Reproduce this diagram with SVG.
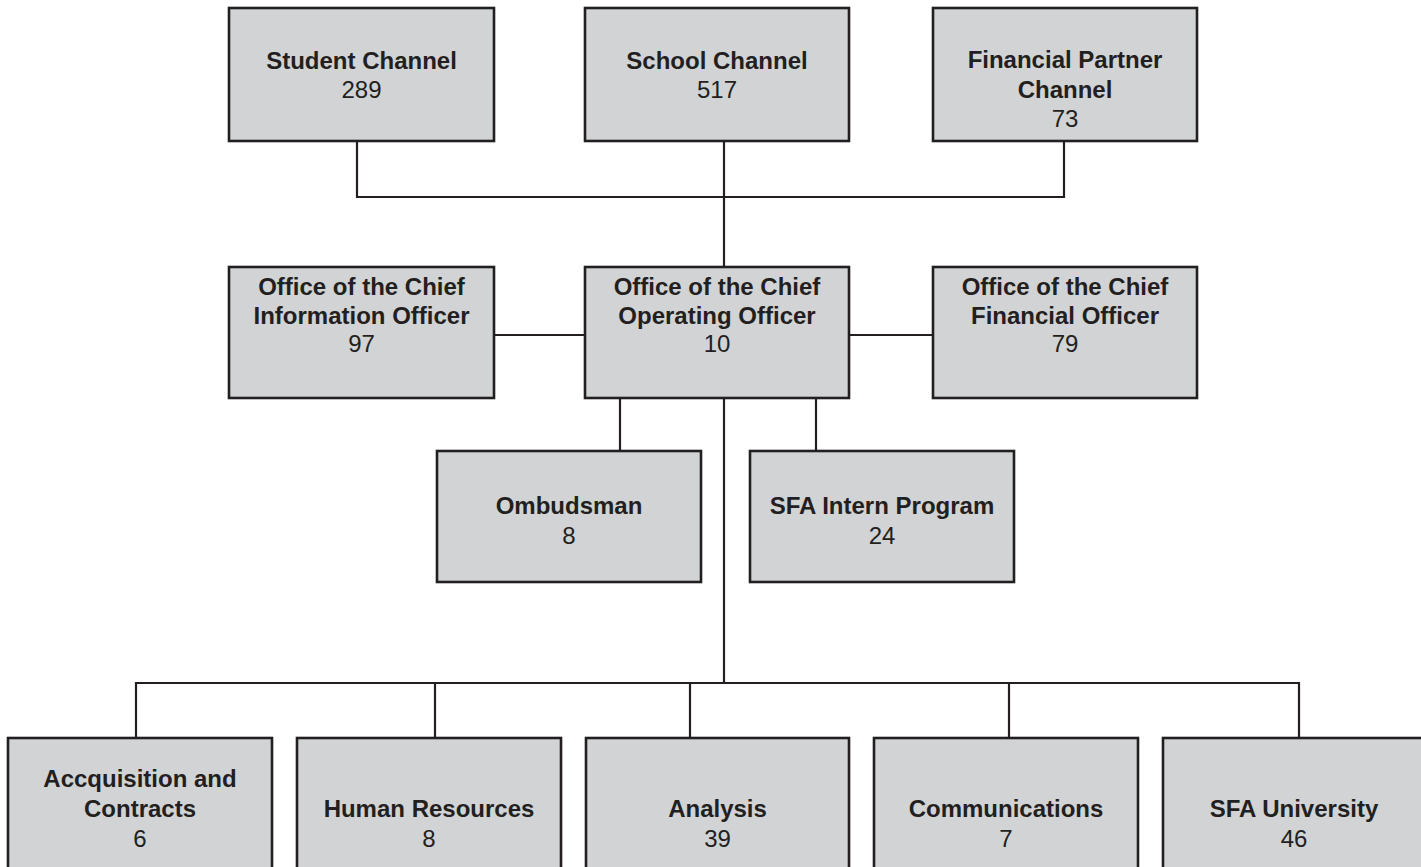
<svg xmlns="http://www.w3.org/2000/svg" width="1421" height="867" viewBox="0 0 1421 867">
<style>
.box{fill:#d1d3d4;stroke:#231f20;stroke-width:2.6}
.ln{fill:none;stroke:#231f20;stroke-width:2.2}
text{font-family:"Liberation Sans",Arial,Helvetica,sans-serif;font-size:24px;fill:#231f20;text-anchor:middle}
.b{font-weight:bold}
</style>
<rect width="1421" height="867" fill="#ffffff"/>
<g id="connectors">
<path class="ln" d="M357,141 V197 H1064 V141"/>
<path class="ln" d="M724,141 V267"/>
<path class="ln" d="M494,335 H585"/>
<path class="ln" d="M849,335 H933"/>
<path class="ln" d="M620,398 V451"/>
<path class="ln" d="M816,398 V451"/>
<path class="ln" d="M724,398 V683"/>
<path class="ln" d="M136,738 V683 H1299 V738"/>
<path class="ln" d="M435,683 V738"/>
<path class="ln" d="M690,683 V738"/>
<path class="ln" d="M1009,683 V738"/>
</g>
<g id="student-channel">
<rect class="box" x="229" y="8" width="265" height="133"/>
<text class="b" x="361.5" y="69">Student Channel</text>
<text x="361.5" y="98">289</text>
</g>
<g id="school-channel">
<rect class="box" x="585" y="8" width="264" height="133"/>
<text class="b" x="717" y="69">School Channel</text>
<text x="717" y="98">517</text>
</g>
<g id="financial-partner-channel">
<rect class="box" x="933" y="8" width="264" height="133"/>
<text class="b" x="1065" y="68">Financial Partner</text>
<text class="b" x="1065" y="98">Channel</text>
<text x="1065" y="127">73</text>
</g>
<g id="cio">
<rect class="box" x="229" y="267" width="265" height="131"/>
<text class="b" x="361.5" y="295">Office of the Chief</text>
<text class="b" x="361.5" y="324">Information Officer</text>
<text x="361.5" y="352">97</text>
</g>
<g id="coo">
<rect class="box" x="585" y="267" width="264" height="131"/>
<text class="b" x="717" y="295">Office of the Chief</text>
<text class="b" x="717" y="324">Operating Officer</text>
<text x="717" y="352">10</text>
</g>
<g id="cfo">
<rect class="box" x="933" y="267" width="264" height="131"/>
<text class="b" x="1065" y="295">Office of the Chief</text>
<text class="b" x="1065" y="324">Financial Officer</text>
<text x="1065" y="352">79</text>
</g>
<g id="ombudsman">
<rect class="box" x="437" y="451" width="264" height="131"/>
<text class="b" x="569" y="514">Ombudsman</text>
<text x="569" y="544">8</text>
</g>
<g id="sfa-intern-program">
<rect class="box" x="750" y="451" width="264" height="131"/>
<text class="b" x="882" y="514">SFA Intern Program</text>
<text x="882" y="544">24</text>
</g>
<g id="acquisition">
<rect class="box" x="8" y="738" width="264" height="145"/>
<text class="b" x="140" y="787">Accquisition and</text>
<text class="b" x="140" y="817">Contracts</text>
<text x="140" y="847">6</text>
</g>
<g id="human-resources">
<rect class="box" x="297" y="738" width="264" height="145"/>
<text class="b" x="429" y="817">Human Resources</text>
<text x="429" y="847">8</text>
</g>
<g id="analysis">
<rect class="box" x="586" y="738" width="263" height="145"/>
<text class="b" x="717.5" y="817">Analysis</text>
<text x="717.5" y="847">39</text>
</g>
<g id="communications">
<rect class="box" x="874" y="738" width="264" height="145"/>
<text class="b" x="1006" y="817">Communications</text>
<text x="1006" y="847">7</text>
</g>
<g id="sfa-university">
<rect class="box" x="1163" y="738" width="264" height="145"/>
<text class="b" x="1294" y="817">SFA University</text>
<text x="1294" y="847">46</text>
</g>
</svg>
